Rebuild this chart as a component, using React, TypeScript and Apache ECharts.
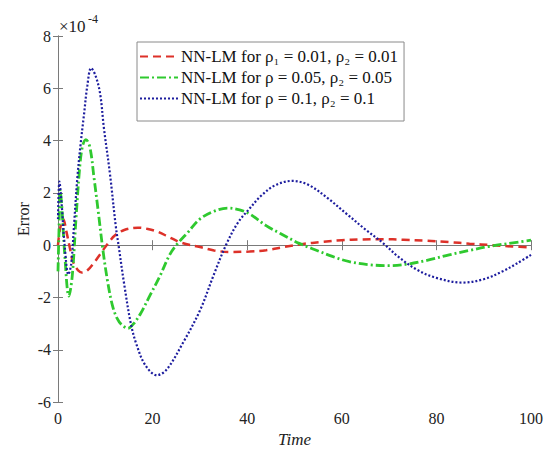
import React, { useEffect, useRef } from "react";
import * as echarts from "echarts";

// values in units of 1e-4
const redData: [number, number][] = [
  [0, 0], [0.4, 0.6], [1.1, 1.0], [1.8, 0.5], [2.5, -0.1], [3.2, -0.65], [4.2, -0.95], [5.2, -1.05],
  [6.3, -0.95], [7.4, -0.72], [8.5, -0.45], [9.5, -0.19], [10.7, 0.1], [12, 0.37], [14, 0.58],
  [16.9, 0.67], [19, 0.62], [21, 0.52], [23.6, 0.3], [26, 0.1], [30, -0.07], [33, -0.2],
  [36.3, -0.26], [40.5, -0.24], [44, -0.19], [48, -0.06], [51.5, 0.04], [56, 0.13], [60, 0.19],
  [64, 0.22], [68.6, 0.23], [73, 0.21], [78, 0.17], [82.7, 0.12], [87, 0.06], [91.8, 0],
  [96, -0.05], [100, -0.08],
];

const greenData: [number, number][] = [
  [0, -1.0], [0.2, 0.5], [0.45, 2.1], [0.8, 1.5], [1.4, -0.3], [2.3, -1.95], [3.0, -1.2],
  [3.8, 1.0], [4.6, 3.0], [5.2, 3.8], [5.9, 4.04], [6.75, 3.74], [7.6, 2.6], [8.5, 1.3],
  [9.5, -0.19], [10.5, -1.4], [11.5, -2.3], [12.5, -2.8], [13.5, -3.05], [14.8, -3.18],
  [16, -3.0], [17.5, -2.6], [19.5, -1.9], [21.5, -1.2], [23.6, -0.37], [25, 0], [27.5, 0.5],
  [30, 1.0], [33, 1.3], [35.9, 1.42], [38.4, 1.35], [40.5, 1.2], [44, 0.75], [47, 0.45],
  [51, 0.07], [55, -0.22], [58, -0.43], [61.6, -0.63], [66, -0.75], [70, -0.78], [74, -0.72],
  [78, -0.58], [82.7, -0.37], [87, -0.2], [91, -0.05], [95, 0.06], [100, 0.19],
];

const blueData: [number, number][] = [
  [0, 1.0], [0.3, 2.43], [0.8, 1.5], [1.4, 0.0], [2.2, -1.12], [2.8, -0.7], [3.4, 0.8],
  [4.1, 2.6], [4.8, 3.9], [5.5, 5.0], [6.2, 6.1], [7, 6.77], [7.9, 6.5], [8.9, 5.8],
  [9.7, 4.49], [11, 2.7], [12.2, 0.75], [12.8, 0], [14, -1.5], [15.4, -3.0], [16.6, -3.8],
  [18.5, -4.6], [20.9, -4.97], [23, -4.75], [26.4, -3.74], [30, -2.5], [33, -1.1], [35.5, 0],
  [38, 0.85], [40.5, 1.4], [43, 1.9], [46, 2.3], [49.6, 2.46], [53, 2.3], [57, 1.8], [61, 1.2],
  [65, 0.6], [68.6, 0.1], [72, -0.45], [76, -0.95], [80, -1.25], [85.5, -1.43], [90, -1.3],
  [94, -1.0], [97, -0.7], [100, -0.37],
];

const seriesNames = [
  "NN-LM for ρ₁ = 0.01, ρ₂ = 0.01",
  "NN-LM for ρ = 0.05, ρ₂ = 0.05",
  "NN-LM for ρ = 0.1, ρ₂ = 0.1",
];

const xTicks = { min: 0, max: 100, interval: 20 };
const yTicks = { min: -6, max: 8, interval: 2 };

const FONT = "Liberation Serif, Times New Roman, serif";
const AXIS_COLOR = "#7a7a7a";

export default function App() {
  const ref = useRef<HTMLDivElement>(null);
  useEffect(() => {
    if (!ref.current) return;
    const chart = echarts.init(ref.current, undefined, { renderer: "svg" });
    const baseAxis = {
      axisLine: { show: true, lineStyle: { color: AXIS_COLOR, width: 1 } },
      axisTick: { show: true, inside: true, length: 5, lineStyle: { color: AXIS_COLOR } },
      splitLine: { show: false },
    };
    chart.setOption({
      animation: false,
      backgroundColor: "#fff",
      textStyle: { fontFamily: FONT },
      grid: { left: 58, right: 14, top: 36, bottom: 43, containLabel: false },
      legend: {
        orient: "vertical",
        left: 137,
        top: 42,
        itemWidth: 38,
        itemHeight: 14,
        itemGap: 4,
        padding: [6, 6, 14, 2],
        borderColor: "#8a8a8a",
        borderWidth: 1,
        backgroundColor: "#fff",
        itemStyle: { opacity: 0, borderWidth: 0 },
        textStyle: { fontFamily: FONT, fontSize: 17, color: "#111", lineHeight: 17, padding: [0, 0, 0, -2] },
        data: seriesNames,
      },
      xAxis: [
        {
          ...baseAxis,
          type: "value",
          min: xTicks.min,
          max: xTicks.max,
          interval: xTicks.interval,
          position: "bottom",
          axisLabel: { fontFamily: FONT, fontSize: 16, color: "#222", margin: 8 },
          name: "Time",
          nameLocation: "middle",
          nameGap: 25,
          nameTextStyle: { fontFamily: FONT, fontSize: 17, fontStyle: "italic", color: "#222" },
        },
        {
          ...baseAxis,
          type: "value",
          min: xTicks.min,
          max: xTicks.max,
          interval: xTicks.interval,
          position: "top",
          axisLabel: { show: false },
        },
      ],
      yAxis: [
        {
          ...baseAxis,
          type: "value",
          min: yTicks.min,
          max: yTicks.max,
          interval: yTicks.interval,
          position: "left",
          axisLabel: { fontFamily: FONT, fontSize: 16, color: "#222", margin: 7 },
          name: "Error",
          nameLocation: "middle",
          nameGap: 27,
          nameMoveOverlap: false,
          nameTextStyle: { fontFamily: FONT, fontSize: 16, color: "#222" },
        },
        {
          ...baseAxis,
          type: "value",
          min: yTicks.min,
          max: yTicks.max,
          interval: yTicks.interval,
          position: "right",
          axisLabel: { show: false },
        },
      ],
      graphic: [
        {
          type: "text",
          left: 59,
          top: 18,
          style: { text: "×10", fontFamily: FONT, fontSize: 17, fill: "#222" },
        },
        {
          type: "text",
          left: 88,
          top: 13,
          style: { text: "-4", fontFamily: FONT, fontSize: 12, fill: "#222" },
        },
      ],
      series: [
        {
          name: seriesNames[0],
          type: "line",
          data: redData,
          smooth: 0.35,
          showSymbol: false,
          symbol: "none",
          lineStyle: { color: "#dd3129", width: 2.5, type: [8, 5] },
          itemStyle: { color: "#dd3129" },
        },
        {
          name: seriesNames[1],
          type: "line",
          data: greenData,
          smooth: 0.35,
          showSymbol: false,
          symbol: "none",
          lineStyle: { color: "#2fc92f", width: 2.8, type: [9, 3, 2, 3] },
          itemStyle: { color: "#2fc92f" },
        },
        {
          name: seriesNames[2],
          type: "line",
          data: blueData,
          smooth: 0.35,
          showSymbol: false,
          symbol: "none",
          lineStyle: { color: "#1d1d9e", width: 2.2, type: [2, 2] },
          itemStyle: { color: "#1d1d9e" },
        },
      ],
    });
    return () => chart.dispose();
  }, []);
  return <div ref={ref} style={{ width: 546, height: 453, position: "absolute", left: 0, top: 0 }} />;
}
